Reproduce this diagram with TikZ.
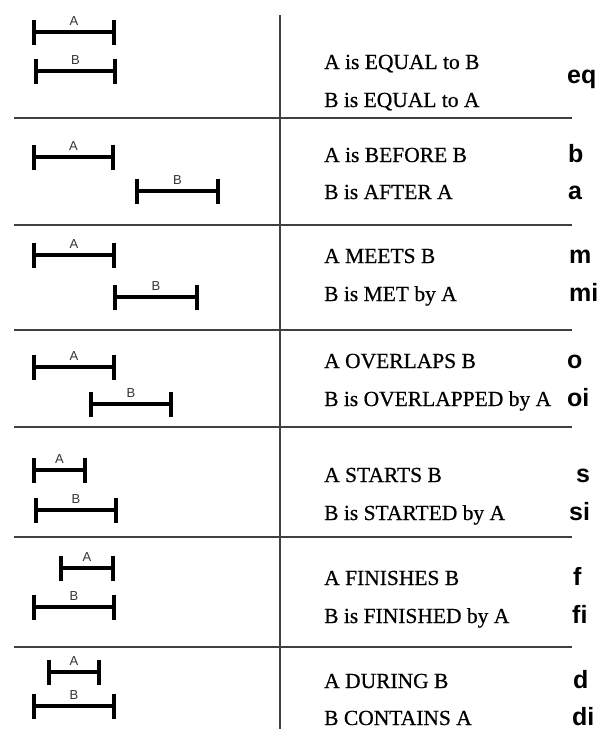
\documentclass[tikz,border=0pt]{standalone}
\usepackage{fontspec}
\setmainfont[FakeBold=0.6]{Liberation Serif}
\newfontfamily\abbrfamily{Liberation Sans}
\usepackage{tikz}
\usetikzlibrary{arrows.meta}
\tikzstyle{bar}=[line width=3.3pt,{Bar[width=25pt,line width=4pt]}-{Bar[width=25pt,line width=4pt]}]
\tikzstyle{tag}=[font=\abbrfamily\fontsize{13}{13}\selectfont,text=black!80,inner sep=0pt,midway,above=5pt]
\tikzstyle{rel}=[font=\fontsize{21.5}{24}\selectfont,anchor=base west,inner sep=0pt]
\tikzstyle{abbr}=[font=\abbrfamily\bfseries\fontsize{25}{28}\selectfont,anchor=base west,inner sep=0pt]
\tikzstyle{rule} = [draw=black!75,line width=1.6pt]

\begin{document}
\begin{tikzpicture}[x=1pt,y=-1pt]
      \useasboundingbox[fill=white] (0,0) rectangle (608,729);
      \draw[rule] (280,15) -- (280,729);
      \foreach \y in {118,225,330,427,537,647}
        \draw[rule] (14,\y) -- (572,\y);
      \draw[bar] (32,32) -- node[tag] {A} (116,32);
      \draw[bar] (34,71) -- node[tag] {B} (117,71);
      \draw[bar] (32,157) -- node[tag] {A} (115,157);
      \draw[bar] (135,191) -- node[tag] {B} (220,191);
      \draw[bar] (32,255) -- node[tag] {A} (116,255);
      \draw[bar] (113,297) -- node[tag] {B} (199,297);
      \draw[bar] (32,367) -- node[tag] {A} (116,367);
      \draw[bar] (89,404) -- node[tag] {B} (173,404);
      \draw[bar] (32,470) -- node[tag] {A} (87,470);
      \draw[bar] (34,510) -- node[tag] {B} (118,510);
      \draw[bar] (59,568) -- node[tag] {A} (115,568);
      \draw[bar] (32,607) -- node[tag] {B} (116,607);
      \draw[bar] (47,672) -- node[tag] {A} (101,672);
      \draw[bar] (32,706) -- node[tag] {B} (116,706);
      \node[rel] (eq1) at (324,69) {A is EQUAL to B};
      \node[rel] (eq2) at (324,107) {B is EQUAL to A};
      \node[rel] (b1) at (324,162) {A is BEFORE B};
      \node[rel] (b2) at (324,199) {B is AFTER A};
      \node[rel] (m1) at (324,263) {A MEETS B};
      \node[rel] (m2) at (324,301) {B is MET by A};
      \node[rel] (o1) at (324,368) {A OVERLAPS B};
      \node[rel] (o2) at (324,406) {B is OVERLAPPED by A};
      \node[rel] (s1) at (324,482) {A STARTS B};
      \node[rel] (s2) at (324,520) {B is STARTED by A};
      \node[rel] (f1) at (324,585) {A FINISHES B};
      \node[rel] (f2) at (324,623) {B is FINISHED by A};
      \node[rel] (d1) at (324,688) {A DURING B};
      \node[rel] (d2) at (324,725) {B CONTAINS A};
      \node[abbr] (eq) at (567,83) {eq};
      \node[abbr] (b) at (568,162) {b};
      \node[abbr] (a) at (568,199) {a};
      \node[abbr] (m) at (569,263) {m};
      \node[abbr] (mi) at (569,301) {mi};
      \node[abbr] (o) at (567,368) {o};
      \node[abbr] (oi) at (567,406) {oi};
      \node[abbr] (s) at (576,482) {s};
      \node[abbr] (si) at (569,520) {si};
      \node[abbr] (f) at (573,585) {f};
      \node[abbr] (fi) at (572,623) {fi};
      \node[abbr] (d) at (573,688) {d};
      \node[abbr] (di) at (572,725) {di};
    \end{tikzpicture}
\end{document}
